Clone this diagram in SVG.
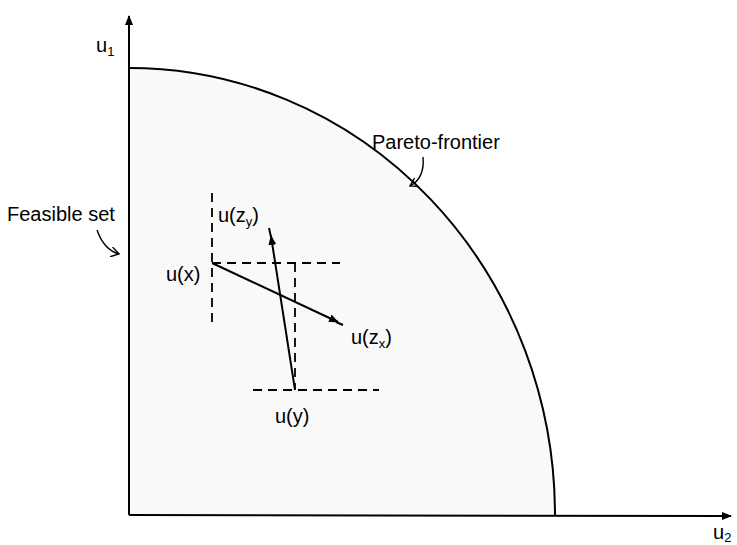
<svg xmlns="http://www.w3.org/2000/svg" width="737" height="545" viewBox="0 0 737 545">
<style>
.ax{stroke:#000;stroke-width:2;fill:none}
.sol{stroke:#000;stroke-width:2;fill:none}
.dash{stroke:#000;stroke-width:1.8;fill:none;stroke-dasharray:9,6}
.thin{stroke:#000;stroke-width:1.4;fill:none}
text{font-family:"Liberation Sans",Arial,sans-serif;font-size:20px;fill:#000}
.sub{font-size:13px}
</style>
<defs>
<marker id="ah" markerWidth="10" markerHeight="8" refX="9" refY="4" orient="auto" markerUnits="userSpaceOnUse">
<path d="M0,0 L10,4 L0,8 Z" fill="#000"/>
</marker>
<marker id="sh" markerWidth="10" markerHeight="10" refX="8" refY="5" orient="auto" markerUnits="userSpaceOnUse">
<path d="M0,0 L8,5 L0,10" fill="none" stroke="#000" stroke-width="1.4"/>
</marker>
</defs>
<rect width="737" height="545" fill="#fff"/>
<g id="feasible-set">
<path d="M129,68 A426,447 0 0 1 555,515 L129,515 Z" fill="#f9f9f9"/>
</g>
<g id="axes">
<line class="ax" x1="129" y1="515" x2="129" y2="16" marker-end="url(#ah)"/>
<line class="ax" x1="129" y1="515" x2="731" y2="516" marker-end="url(#ah)"/>
<text x="96" y="52">u<tspan class="sub" dy="4">1</tspan></text>
<text x="713" y="539">u<tspan class="sub" dy="3">2</tspan></text>
</g>
<g id="pareto-frontier">
<path class="sol" d="M129,68 A426,447 0 0 1 555,515"/>
<text x="372" y="149">Pareto-frontier</text>
</g>
<g id="labels">
<text x="7" y="221">Feasible set</text>
<text x="166" y="281">u(x)</text>
<text x="218" y="222">u(z<tspan class="sub" dy="4">y</tspan><tspan dy="-4">)</tspan></text>
<text x="351" y="344">u(z<tspan class="sub" dy="4">x</tspan><tspan dy="-4">)</tspan></text>
<text x="275" y="423">u(y)</text>
</g>
<g id="connectors">
<path class="thin" d="M97,230 Q104,250 119,254" marker-end="url(#sh)"/>
<path class="thin" d="M423,157 Q425,178 410,186" marker-end="url(#sh)"/>
<line class="dash" x1="212" y1="193" x2="212" y2="323"/>
<line class="dash" x1="212" y1="263" x2="340" y2="263"/>
<line class="dash" x1="295" y1="263" x2="295" y2="390"/>
<line class="dash" x1="253" y1="390" x2="379" y2="390"/>
<line class="sol" x1="212" y1="263" x2="338" y2="322" marker-end="url(#ah)"/>
<line class="sol" x1="336" y1="322" x2="343" y2="325"/>
<line class="sol" x1="295" y1="390" x2="271" y2="236" marker-end="url(#ah)"/>
<line class="sol" x1="271" y1="237" x2="269" y2="228"/>
</g>
</svg>
